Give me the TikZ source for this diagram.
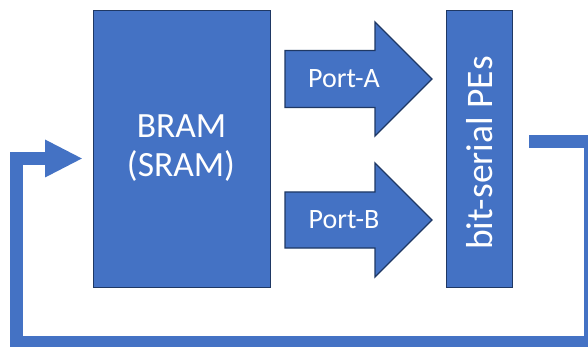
\documentclass[tikz,border=0pt]{standalone}
\usepackage{fontspec}
\setmainfont{Carlito}
\usetikzlibrary{calc}
\definecolor{blockblue}{HTML}{4472C4}
\definecolor{blockedge}{HTML}{1F3864}
\begin{document}
\begin{tikzpicture}[x=1pt,y=-1pt,
  block/.style={fill=blockblue,draw=blockedge,line width=1.3pt,inner sep=0pt},
  lbl/.style={text=white,inner sep=0pt},
  feedback/.style={draw=blockblue,line width=13pt,line join=miter}]
\useasboundingbox (0,0) rectangle (588,347);
\clip (0,0) rectangle (588,347);
\fill[white] (0,0) rectangle (588,347);

% memory block and processing elements
\node[block,minimum width=177pt,minimum height=277pt] (bram) at (182,149) {};
\node[block,minimum width=66pt,minimum height=277pt] (pe) at (479.5,149) {};

\node[lbl,font=\fontsize{35.5}{38}\selectfont,anchor=base] (bramtxt) at (181.5,138) {BRAM};
\node[lbl,font=\fontsize{35.5}{38}\selectfont,anchor=base] (sramtxt) at (181,177) {(SRAM)};
\node[lbl,font=\fontsize{37.5}{40}\selectfont,anchor=base,rotate=90] (petxt) at (492,153) {bit-serial PEs};

% block arrows for the two ports
\coordinate (pa) at (285,79);
\coordinate (pb) at (285,220);
\draw[block] (pa) ++(0,-28.5) -- ++(90,0) -- ++(0,-28.5) -- ++(57,57) -- ++(-57,57) -- ++(0,-28.5) -- ++(-90,0) -- cycle;
\draw[block] (pb) ++(0,-28) -- ++(90,0) -- ++(0,-29) -- ++(57,57) -- ++(-57,57) -- ++(0,-29) -- ++(-90,0) -- cycle;
\node[lbl,font=\fontsize{28}{32}\selectfont,anchor=base] (porta) at (344,88) {Port-A};
\node[lbl,font=\fontsize{28}{32}\selectfont,anchor=base] (portb) at (344,228) {Port-B};

% feedback path from the PEs back into the memory
\coordinate (fbout) at ($(pe.east)+(16,-7.5)$);
\coordinate (fbin) at (46,158.5);
\coordinate (fbtip) at ($(bram.west)+(-11,9.5)$);
\draw[feedback] (fbout) -- (590.5,141.5) -- (590.5,342.5) -- (16.5,342.5) -- (16.5,158.5) -- (fbin);
\fill[blockblue] (45,139.5) -- (fbtip) -- (45,177.5) -- cycle;
\end{tikzpicture}
\end{document}
